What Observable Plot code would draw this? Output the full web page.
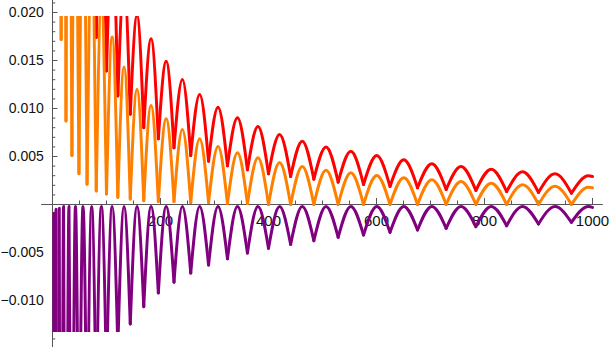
<!DOCTYPE html>
<html>
<head>
<meta charset="utf-8">
<script src="https://cdn.jsdelivr.net/npm/d3@7"></script>
<script src="https://cdn.jsdelivr.net/npm/@observablehq/plot@0.6"></script>
<style>
  html, body { margin: 0; padding: 0; background: #fff; }
  #chart svg { display: block; }
</style>
</head>
<body>
<div id="chart"></div>
<script>
// Arch n runs from cuspX[n-1] (= n^2) to the next cusp.
const cuspX = [1,4,9,16,25,36,49,64,81,100,121,144,169,196,225,256,289,324,361,400,441,484,529,576,625,676,729,784,841,900,961];
const peakX = [2.5,6.5,12.5,20.5,30.5,42.5,56.5,72.5,90.5,110.5,132.5,156.5,182.5,210.5,240.5,272.5,306.5,342.5,380.5,420.5,462.5,506.5,552.5,600.5,650.5,702.5,756.5,812.5,870.5,930.5,992.5];
const endX = 1000;

// Red series: values at the cusps and at the arch tops (null = not drawn)
const redMin = [null,null,null,null,null,null,null,0.0211,0.0174,0.0139,0.0113,0.0094,0.0080,0.00684,0.0059,0.0051,0.00451,0.00403,0.00361,0.0032,0.00292,0.00264,0.00233,0.00208,0.00188,0.00174,0.00156,0.00146,0.00135,0.00125,0.00118];
const redPeak = [null,null,null,null,null,null,null,0.042,0.034,0.0277,0.0231,0.0197,0.01726,0.01493,0.01302,0.01146,0.01014,0.00903,0.00813,0.00729,0.0066,0.006,0.00555,0.0051,0.00465,0.00424,0.00396,0.00368,0.0034,0.0032,0.0030];
const redEnd = 0.00292;

// Orange series
const orangeMin = [null,null,0.04,0.0172,0.0087,0.0051,0.0032,0.0021,0.0014,0.0011,0.00075,0.00057,0.0004,0.0003,0.0003,0.0002,0.0002,0.0001,0.0001,0,0,0,0,0,0,0,0,0,0,0,0];
const orangePeak = [null,null,0.19,0.107,0.069,0.048,0.035,0.027,0.0212,0.01745,0.01432,0.0120,0.01031,0.00892,0.00781,0.00684,0.00604,0.00538,0.00486,0.00438,0.00396,0.00357,0.0033,0.00302,0.00278,0.00257,0.0024,0.00222,0.00205,0.00191,0.00179];
const orangeEnd = 0.00174;

// Purple series (cusps point down, tops touch the axis)
const purpleMin = [-1.79,-0.45,-0.2,-0.11,-0.072,-0.05,-0.0365,-0.028,-0.0221,-0.0179,-0.0148,-0.01245,-0.01065,-0.00922,-0.0081,-0.00714,-0.0063,-0.00565,-0.00505,-0.00455,-0.00415,-0.00377,-0.00342,-0.00318,-0.0029,-0.00266,-0.00248,-0.00231,-0.00221,-0.00203,-0.00186];
const purpleTop = [-0.0009,-0.0005,-0.0004,-0.0002,-0.0002,-0.0002,-0.0002,-0.0002,-0.0002,-0.0002,-0.0002,-0.0002,-0.0002,-0.0002,-0.0002,-0.0002,-0.0002,-0.0002,-0.0002,-0.0002,-0.0002,-0.0002,-0.0002,-0.0002,-0.0002,-0.0002,-0.0002,-0.0002,-0.0002,-0.0002,-0.0002];
const purpleEnd = -0.0003;

// Axis ticks
const xMajor = [200, 400, 600, 800, 1000];
const xMinor = [50,100,150,250,300,350,450,500,550,650,700,750,850,900,950];
const yMajor = [-0.010, -0.005, 0.005, 0.010, 0.015, 0.020];
const yMinor = [-0.014,-0.013,-0.012,-0.011,-0.009,-0.008,-0.007,-0.006,-0.004,-0.003,-0.002,-0.001,0.001,0.002,0.003,0.004,0.006,0.007,0.008,0.009,0.011,0.012,0.013,0.014,0.016,0.017,0.018,0.019,0.021];

function archRows(mins, peaks, endVal) {
  const rows = [];
  for (let i = 0; i < cuspX.length; i++) {
    if (mins[i] == null || peaks[i] == null) continue;
    const x1 = i + 1 < cuspX.length ? cuspX[i + 1] : endX;
    const y1 = i + 1 < cuspX.length ? mins[i + 1] : endVal;
    rows.push({arch: i, x: cuspX[i], y: mins[i]});
    rows.push({arch: i, x: peakX[i], y: peaks[i]});
    rows.push({arch: i, x: x1, y: y1});
  }
  return rows;
}

const red = archRows(redMin, redPeak, redEnd);
const orange = archRows(orangeMin, orangePeak, orangeEnd);
const purple = archRows(purpleMin, purpleTop, purpleEnd);

// pixel-to-data helpers for tick lengths (style only)
const xPerPx = 1040 / (610 - 41.2 - 7.2);
const yPerPx = (0.019583 + 0.013333) / (351 - 16 - 19);

const fmt = d => (d < 0 ? "\u2212" : "") + Math.abs(d).toFixed(3);
const axisColor = "#555";
const lineOpts = (color) => ({x: "x", y: "y", z: "arch", stroke: color, strokeWidth: 3, curve: "monotone-x", clip: true});

const chart = Plot.plot({
  width: 610,
  height: 351,
  marginLeft: 41.2,
  marginRight: 7.2,
  marginTop: 16,
  marginBottom: 19,
  style: {background: "#fff", fontFamily: "'Liberation Sans', Arial, sans-serif"},
  x: {domain: [-20, 1020], axis: null},
  y: {domain: [-0.013333, 0.019583], axis: null},
  marks: [
    Plot.ruleY([0], {x1: -20, x2: 1020, stroke: axisColor, strokeWidth: 1}),
    Plot.ruleX([0], {y1: -0.0149, y2: 0.02125, stroke: axisColor, strokeWidth: 1}),
    Plot.ruleX(xMajor, {x: d => d, y1: 0, y2: 6 * yPerPx, stroke: axisColor}),
    Plot.ruleX(xMinor, {x: d => d, y1: 0, y2: 3.5 * yPerPx, stroke: axisColor}),
    Plot.ruleY(yMajor, {y: d => d, x1: 0, x2: 5.5 * xPerPx, stroke: axisColor}),
    Plot.ruleY(yMinor, {y: d => d, x1: 0, x2: 3.3 * xPerPx, stroke: axisColor}),
    Plot.text(xMajor, {x: d => d, y: 0, text: d => String(d), dy: 16.3, lineAnchor: "middle", textAnchor: "middle", fontSize: 15, fill: "#111"}),
    Plot.text(yMajor, {x: 0, y: d => d, text: fmt, dx: -8.7, lineAnchor: "middle", textAnchor: "end", fontSize: 14, fill: "#111"}),
    Plot.line(red, lineOpts("#ff0000")),
    Plot.line(orange, lineOpts("#ff8000")),
    Plot.line(purple, lineOpts("#800080"))
  ]
});
document.getElementById("chart").appendChild(chart);
</script>
</body>
</html>
